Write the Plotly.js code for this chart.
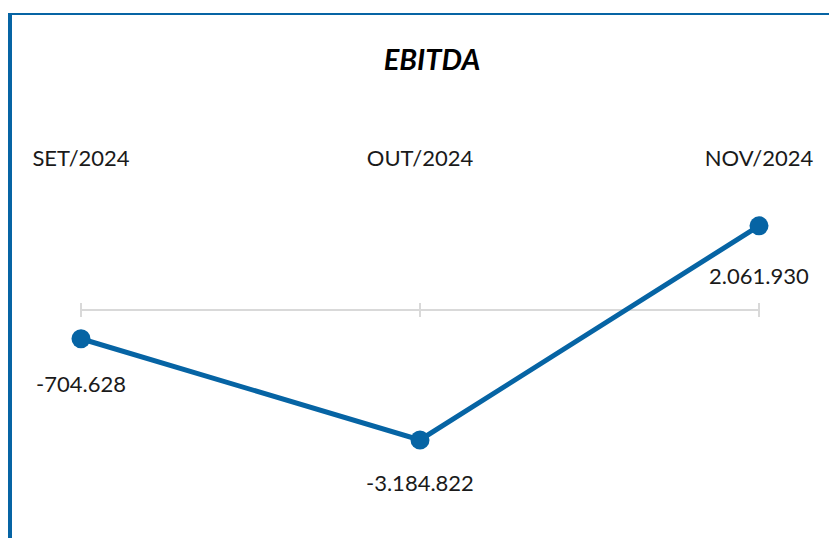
<!DOCTYPE html>
<html>
<head>
<meta charset="utf-8">
<script src="https://cdn.plot.ly/plotly-3.0.1.min.js"></script>
<style>
html,body{margin:0;padding:0;background:#fff;}
#chart{width:829px;height:538px;}
</style>
</head>
<body>
<div id="chart"></div>
<script>
const categories = ['SET/2024', 'OUT/2024', 'NOV/2024'];
const ebitda = [-704628, -3184822, 2061930];
const labelShift = [-45, -43, -50];

const blue = '#0664a4';
const fontFam = 'Lato, "Liberation Sans", Arial, sans-serif';

function fmt(v) {
  const s = Math.abs(Math.round(v)).toString().replace(/\B(?=(\d{3})+(?!\d))/g, '.');
  return (v < 0 ? '-' : '') + s;
}

const W = 829, H = 538, T = 171;
const zeroPx = 310, pxPerUnit = 40.8 / 1e6;
const yTop = (zeroPx - T) / pxPerUnit;
const yBot = -(H - zeroPx) / pxPerUnit;

const trace = {
  type: 'scatter',
  mode: 'lines+markers',
  x: categories,
  y: ebitda,
  line: {color: blue, width: 5},
  marker: {color: blue, size: 19},
  hoverinfo: 'skip',
  cliponaxis: false
};

const shapes = [
  // zero baseline
  {type: 'line', xref: 'x', yref: 'y', x0: 0, x1: categories.length - 1, y0: 0, y1: 0,
   line: {color: '#d9d9d9', width: 2}, layer: 'below'},
  // frame borders
  {type: 'rect', xref: 'paper', yref: 'paper', x0: 8 / W, x1: 12 / W, y0: -0.01, y1: 1 + (T - 13) / (H - T),
   fillcolor: blue, line: {width: 0}},
  {type: 'rect', xref: 'paper', yref: 'paper', x0: 8 / W, x1: 1.01, y0: 1 + (T - 15) / (H - T), y1: 1 + (T - 13) / (H - T),
   fillcolor: blue, line: {width: 0}}
];
categories.forEach((c, i) => {
  shapes.push({type: 'line', xref: 'x', yref: 'y', x0: i, x1: i, ysizemode: 'pixel', yanchor: 0,
    y0: -7, y1: 7, line: {color: '#d9d9d9', width: 2}, layer: 'below'});
});

const annotations = categories.map((c, i) => ({
  x: c, y: ebitda[i], xref: 'x', yref: 'y',
  text: fmt(ebitda[i]), showarrow: false, yshift: labelShift[i],
  font: {family: fontFam, size: 22, color: '#1a1a1a'}
}));

const layout = {
  width: W, height: H,
  margin: {l: 0, r: 0, t: T, b: 0, pad: 0},
  paper_bgcolor: '#ffffff', plot_bgcolor: '#ffffff',
  showlegend: false,
  title: {text: '<b><i>EBITDA</i></b>', x: 432 / W, xanchor: 'center', y: 1 - 60 / H, yanchor: 'middle',
          xref: 'paper', yref: 'container',
          font: {family: fontFam, size: 29, color: '#000000'}},
  xaxis: {type: 'category', range: [-81 / 339, 2 + 70 / 339], side: 'top', showgrid: false, zeroline: false,
          showline: false, ticks: '', tickfont: {family: fontFam, size: 22, color: '#1a1a1a'}, fixedrange: true},
  yaxis: {range: [yBot, yTop], showgrid: false, zeroline: false, showline: false, showticklabels: false,
          ticks: '', fixedrange: true},
  shapes: shapes,
  annotations: annotations
};

Plotly.newPlot('chart', [trace], layout, {displayModeBar: false, staticPlot: true});
</script>
</body>
</html>
